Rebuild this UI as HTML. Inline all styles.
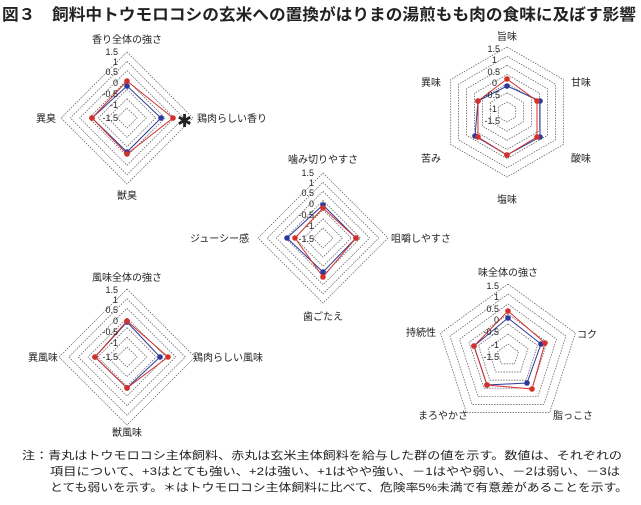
<!DOCTYPE html>
<html><head><meta charset="utf-8"><style>
body{margin:0;background:#fff;width:641px;height:500px;overflow:hidden;font-family:"Liberation Sans","Noto Sans CJK JP",sans-serif}
svg text{font-family:"Liberation Sans","Noto Sans CJK JP",sans-serif;fill:#222}
.s{font-size:9px}
.l{font-size:10px}
</style></head><body>
<svg id="sv" width="641" height="500" xmlns="http://www.w3.org/2000/svg">
<text x="2" y="20" textLength="634" lengthAdjust="spacingAndGlyphs" style="font-size:16px;font-weight:bold">図３　飼料中トウモロコシの玄米への置換がはりまの湯煎もも肉の食味に及ぼす影響</text>
<g id="grid" fill="none" stroke="#555" stroke-width="0.7" stroke-dasharray="1.5,1.2"></g>
<g id="data"></g>
<!-- chart1 -->
<text class="l" x="127" y="43" text-anchor="middle">香り全体の強さ</text>
<text class="l" x="197" y="122">鶏肉らしい香り</text>
<text x="177" y="127" style="font-size:18px">✱</text>
<text class="l" x="36" y="122">異臭</text>
<text class="l" x="127" y="199" text-anchor="middle">獣臭</text>
<g class="s" text-anchor="end"><text x="118" y="55">1.5</text><text x="118" y="65">1</text><text x="118" y="75">0.5</text><text x="118" y="86">0</text><text x="118" y="97">-0.5</text><text x="118" y="108">-1</text><text x="118" y="121">-1.5</text></g>
<!-- chart2 -->
<text class="l" x="507" y="40" text-anchor="middle">旨味</text>
<text class="l" x="571" y="86">甘味</text>
<text class="l" x="571" y="162">酸味</text>
<text class="l" x="507" y="203" text-anchor="middle">塩味</text>
<text class="l" x="421" y="162">苦み</text>
<text class="l" x="421" y="86">異味</text>
<g class="s" text-anchor="end"><text x="500" y="52">1.5</text><text x="497" y="63">1</text><text x="500" y="75">0.5</text><text x="497" y="86">0</text><text x="500" y="98">-0.5</text><text x="497" y="112">-1</text><text x="500" y="124">-1.5</text></g>
<!-- chart3 -->
<text class="l" x="323" y="163" text-anchor="middle">噛み切りやすさ</text>
<text class="l" x="391" y="242">咀嚼しやすさ</text>
<text class="l" x="190" y="242">ジューシー感</text>
<text class="l" x="323" y="320" text-anchor="middle">歯ごたえ</text>
<g class="s" text-anchor="end"><text x="314" y="176">1.5</text><text x="314" y="186">1</text><text x="314" y="196">0.5</text><text x="314" y="207">0</text><text x="314" y="218">-0.5</text><text x="314" y="229">-1</text><text x="314" y="242">-1.5</text></g>
<!-- chart4 -->
<text class="l" x="127" y="281" text-anchor="middle">風味全体の強さ</text>
<text class="l" x="193" y="361">鶏肉らしい風味</text>
<text class="l" x="28" y="361">異風味</text>
<text class="l" x="127" y="436" text-anchor="middle">獣風味</text>
<g class="s" text-anchor="end"><text x="118" y="293">1.5</text><text x="118" y="303">1</text><text x="118" y="313">0.5</text><text x="118" y="324">0</text><text x="118" y="335">-0.5</text><text x="118" y="346">-1</text><text x="118" y="360">-1.5</text></g>
<!-- chart5 -->
<text class="l" x="508" y="276" text-anchor="middle">味全体の強さ</text>
<text class="l" x="577" y="338">コク</text>
<text class="l" x="553" y="419">脂っこさ</text>
<text class="l" x="418" y="419">まろやかさ</text>
<text class="l" x="406" y="336">持続性</text>
<g class="s" text-anchor="end"><text x="499" y="289">1.5</text><text x="499" y="300">1</text><text x="499" y="312">0.5</text><text x="499" y="323">0</text><text x="499" y="335">-0.5</text><text x="499" y="348">-1</text><text x="499" y="360">-1.5</text></g>
<!-- notes -->
<g style="font-size:11px">
<text x="22" y="459" textLength="600" lengthAdjust="spacingAndGlyphs">注：青丸はトウモロコシ主体飼料、赤丸は玄米主体飼料を給与した群の値を示す。数値は、それぞれの</text>
<text x="50" y="475" textLength="570" lengthAdjust="spacingAndGlyphs">項目について、+3はとても強い、+2は強い、+1はやや強い、－1はやや弱い、－2は弱い、－3は</text>
<text x="50" y="491" textLength="578" lengthAdjust="spacingAndGlyphs">とても弱いを示す。＊はトウモロコシ主体飼料に比べて、危険率5%未満で有意差があることを示す。</text>
</g>
</svg>
<script>
var NS="http://www.w3.org/2000/svg",g=document.getElementById('grid'),d=document.getElementById('data');
function el(p,t,a){var e=document.createElementNS(NS,t);for(var k in a)e.setAttribute(k,a[k]);p.appendChild(e);return e;}
function rings(cx,cy,R,n,r0){for(var i=0;i<7;i++){var r=r0+(R-r0)*i/6,pts=[];for(var j=0;j<n;j++){var a=-Math.PI/2+2*Math.PI*j/n;pts.push((cx+r*Math.cos(a)).toFixed(1)+","+(cy+r*Math.sin(a)).toFixed(1));}el(g,'polygon',{points:pts.join(' ')});}}
function series(p,c){el(d,'polygon',{points:p.map(function(q){return q.join(',')}).join(' '),fill:'none',stroke:c,'stroke-width':1});p.forEach(function(q){el(d,'circle',{cx:q[0],cy:q[1],r:2.8,fill:c});});}
rings(127,118,66,4,10);rings(507,112,65,6,10);rings(323,238,65,4,10);rings(127,357,68,4,10);rings(508,355,71,5,11);
var B='#2b3a9a',Rd='#d3322c';
series([[127,86],[161,118],[127,152],[92,118]],B);
series([[127,81],[173,118],[127,154],[92,118]],Rd);
series([[507,86],[540,101],[540,137],[507,155],[475,136],[478,101]],B);
series([[507,79],[537,101],[537,137],[507,155],[478,137],[478,101]],Rd);
series([[323,205],[356,238],[323,272],[287,238]],B);
series([[323,208],[356,238],[323,277],[295,238]],Rd);
series([[127,322],[160,357],[127,388],[95,357]],B);
series([[127,321],[168,357],[127,388],[95,357]],Rd);
series([[508,318],[541,344],[527,383],[487,385],[474,346]],B);
series([[508,311],[545,343],[532,389],[487,385],[474,346]],Rd);
</script>
</body></html>
